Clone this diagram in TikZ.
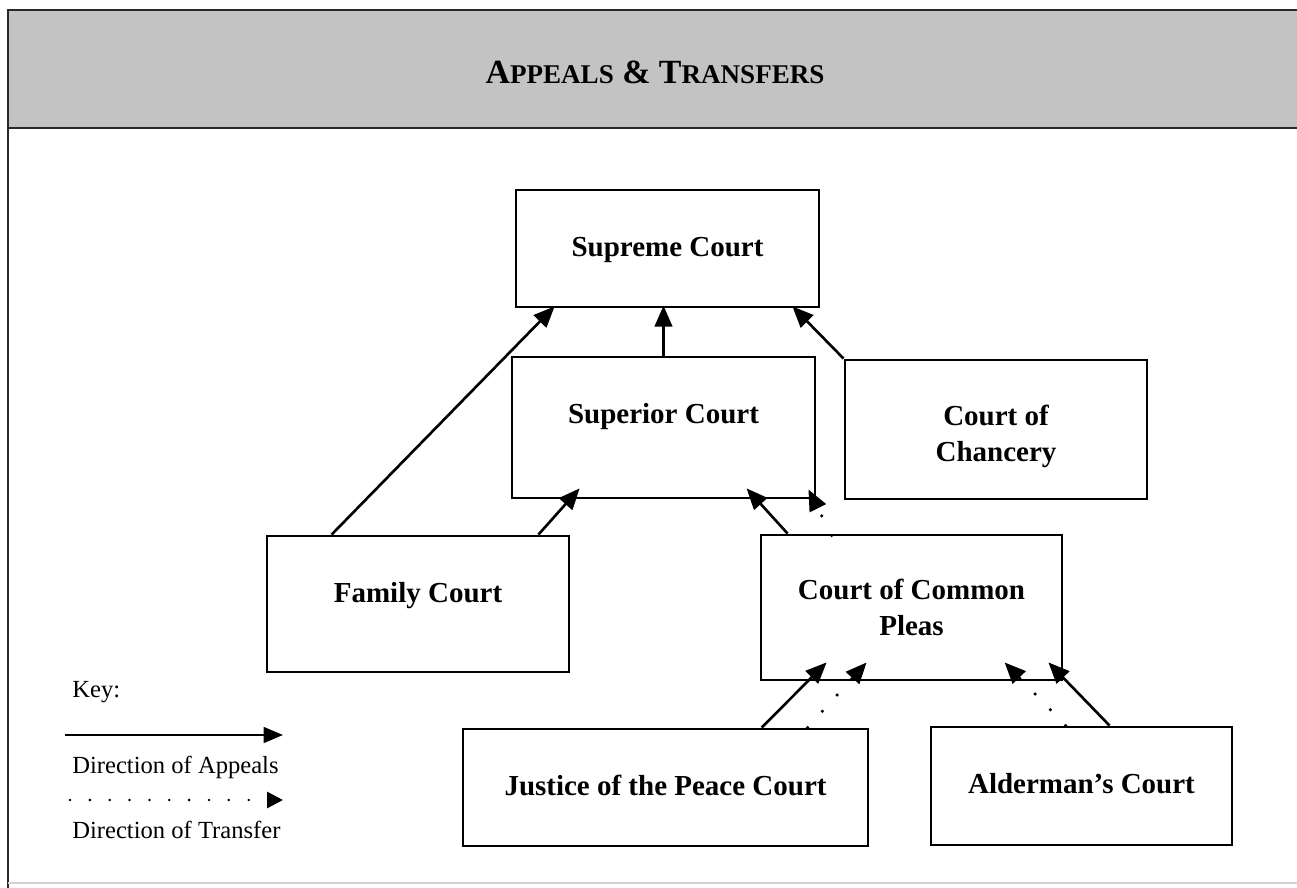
\documentclass[tikz,border=0pt]{standalone}
\usepackage{fontspec}
\setmainfont{Liberation Serif}
\usetikzlibrary{arrows.meta,calc}
\definecolor{bandgray}{RGB}{195,195,195}
\definecolor{framegray}{RGB}{40,40,40}
\definecolor{lightline}{RGB}{210,210,210}
\tikzset{
  court/.style={draw=black,line width=1.6pt,fill=white,inner sep=0pt},
  courttext/.style={inner sep=0pt,align=center,
    font=\fontsize{16.5}{20.5}\selectfont\bfseries},
  appeal/.style={line width=1.5pt,-{Triangle[length=12pt,width=10pt]}},
  transfer/.style={line width=2pt,line cap=round,dash pattern=on 0pt off 12.5pt,
    -{Triangle[length=12pt,width=10pt]}},
  keytext/.style={anchor=west,inner sep=0pt,font=\fontsize{14}{16}\selectfont},
}
\newcommand{\smc}[1]{{\fontsize{15.4}{18}\selectfont #1}}
\begin{document}
\begin{tikzpicture}[x=0.02cm,y=-0.02cm]
\useasboundingbox (0,0) rectangle (1297,888);
% frame and header band
\fill[bandgray] (8,10) rectangle (1297,128);
\draw[framegray,line width=1.5pt] (1297,10) -- (8,10) -- (8,888);
\draw[framegray,line width=1.5pt] (8,128) -- (1297,128);
\draw[lightline,line width=1pt] (8,883) -- (1297,883);
\node[inner sep=0pt,font=\fontsize{19.3}{22}\selectfont\bfseries] (title) at (655,72)
  {A\smc{PPEALS} \& T\smc{RANSFERS}};
% courts
\node[court,minimum width=303*0.02cm,minimum height=117*0.02cm] (supreme) at (667.5,248.5) {};
\node[court,minimum width=303*0.02cm,minimum height=141*0.02cm] (superior) at (663.5,427.5) {};
\node[court,minimum width=302*0.02cm,minimum height=139*0.02cm] (chancery) at (996,429.5) {};
\node[court,minimum width=302*0.02cm,minimum height=136*0.02cm] (family) at (418,604) {};
\node[court,minimum width=301*0.02cm,minimum height=145*0.02cm] (ccp) at (911.5,607.5) {};
\node[court,minimum width=405*0.02cm,minimum height=117*0.02cm] (jp) at (665.5,787.5) {};
\node[court,minimum width=301*0.02cm,minimum height=118*0.02cm] (alderman) at (1081.5,786) {};
\node[courttext] (supremeT) at ($(supreme.center)+(0,1)$) {Supreme Court};
\node[courttext] (superiorT) at ($(superior.center)+(0,-11)$) {Superior Court};
\node[courttext] (chanceryT) at ($(chancery.center)+(0,7)$) {Court of\\Chancery};
\node[courttext] (familyT) at ($(family.center)+(0,-8)$) {Family Court};
\node[courttext] (ccpT) at ($(ccp.center)+(0,0)$) {Court of Common\\Pleas};
\node[courttext] (jpT) at ($(jp.center)+(0,-2)$) {Justice of the Peace Court};
\node[courttext] (aldermanT) at ($(alderman.center)+(0,-2)$) {Alderman's Court};
% appeals
\draw[appeal] ($(family.north west)+(66,0)$) -- ($(supreme.south west)+(40,-2)$);
\draw[appeal] (superior.north) -- ($(superior.north)+(0,-50)$);
\draw[appeal] (chancery.north west) -- ($(supreme.south east)+(-28,-2)$);
\draw[appeal] ($(family.north east)+(-32,0)$) -- ($(superior.south west)+(69,-11)$);
\draw[appeal] ($(ccp.north west)+(28,0)$) -- ($(superior.south west)+(236,-11)$);
\draw[appeal] ($(jp.north west)+(300,0)$) -- ($(ccp.south west)+(67,-19)$);
\draw[appeal] ($(alderman.north west)+(180,0)$) -- ($(ccp.south east)+(-15,-19)$);
% transfers
\draw[transfer] ($(ccp.north west)+(72,2)$) -- ($(superior.south east)+(-8,-10)$);
\draw[transfer] ($(jp.north west)+(346,0)$) -- ($(ccp.south west)+(107,-19)$);
\draw[transfer] ($(alderman.north west)+(136,0)$) -- ($(ccp.south west)+(245,-19)$);
% key
\node[keytext] (key) at (72,692) {Key:};
\coordinate (k1a) at (65,735);
\coordinate (k1b) at (283,735);
\draw[line width=1.2pt,-{Triangle[length=11pt,width=9pt]}] (k1a) -- (k1b);
\node[keytext] (kapp) at (72,767) {Direction of Appeals};
\coordinate (k2a) at (70,800);
\coordinate (k2b) at (283,800);
\draw[line width=1.6pt,line cap=round,dash pattern=on 0pt off 11.3pt,-{Triangle[length=9pt,width=9pt]}] (k2a) -- (k2b);
\node[keytext] (ktr) at (72,830) {Direction of Transfer};
\end{tikzpicture}
\end{document}
